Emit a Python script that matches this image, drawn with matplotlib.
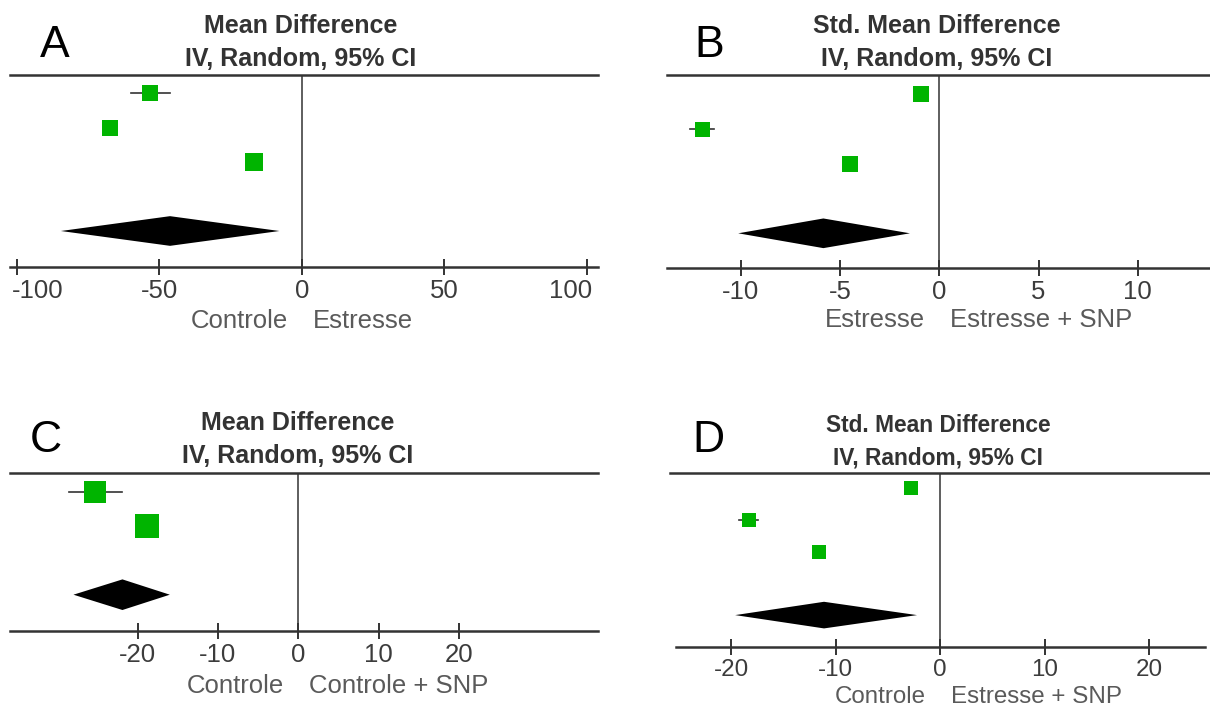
import matplotlib
matplotlib.use('Agg')
import matplotlib.pyplot as plt
from matplotlib.transforms import ScaledTranslation

W, H = 1210, 706
plt.rcParams['font.family'] = ['Liberation Sans', 'DejaVu Sans']

# ---------------- data ----------------
a_est = [-53.2, -67.3, -16.8]
a_lo = [-60.0, -68.5, -18.0]
a_hi = [-46.2, -66.0, -15.6]
a_pooled = [-84.5, -46.2, -7.8]          # lower, estimate, upper
a_ticks = [-100, -50, 0, 50, 100]
a_ticklabels = ['-100', '-50', '0', '50', '100']

b_est = [-0.92, -11.95, -4.52]
b_lo = [-1.2, -12.55, -4.8]
b_hi = [-0.6, -11.35, -4.2]
b_pooled = [-10.13, -5.84, -1.48]
b_ticks = [-10, -5, 0, 5, 10]
b_ticklabels = ['-10', '-5', '0', '5', '10']

c_est = [-25.3, -18.8]
c_lo = [-28.55, -19.8]
c_hi = [-22.0, -17.8]
c_pooled = [-28.0, -21.9, -16.0]
c_ticks = [-20, -10, 0, 10, 20]
c_ticklabels = ['-20', '-10', '0', '10', '20']

d_est = [-2.75, -18.3, -11.6]
d_lo = [-3.2, -19.2, -12.1]
d_hi = [-2.3, -17.4, -11.1]
d_pooled = [-19.6, -11.1, -2.2]
d_ticks = [-20, -10, 0, 10, 20]
d_ticklabels = ['-20', '-10', '0', '10', '20']

subtitle = 'IV, Random, 95% CI'
left_labels = ['Controle', 'Estresse', 'Controle', 'Controle']
right_labels = ['Estresse', 'Estresse + SNP', 'Controle + SNP', 'Estresse + SNP']

# ---------------- layout (pixels) ----------------
panels = [
    dict(est=a_est, lo=a_lo, hi=a_hi, pooled=a_pooled, ticks=a_ticks, tl=a_ticklabels,
         title='Mean Difference', letter='A', ll=left_labels[0], rl=right_labels[0],
         x0=10, x1=598, bx0=10, bx1=598, zero=301.7, scale=2.85,
         top=75, bot=267, row0=93, step=34.5, ms=[11.5, 11.2, 12.6], dh=0.43,
         fs=18.5, tfs=18, t1=33, t2=66, tx=301, lx=40, ly=57, sub_y=328, clamp=True),
    dict(est=b_est, lo=b_lo, hi=b_hi, pooled=b_pooled, ticks=b_ticks, tl=b_ticklabels,
         title='Std. Mean Difference', letter='B', ll=left_labels[1], rl=right_labels[1],
         x0=667, x1=1210, bx0=667, bx1=1210, zero=939.3, scale=19.85,
         top=75, bot=268.3, row0=93.7, step=34.9, ms=[11.5, 10.8, 11.2], dh=0.425,
         fs=18.5, tfs=18, t1=33, t2=66, tx=937, lx=694, ly=57, sub_y=327, clamp=False),
    dict(est=c_est, lo=c_lo, hi=c_hi, pooled=c_pooled, ticks=c_ticks, tl=c_ticklabels,
         title='Mean Difference', letter='C', ll=left_labels[2], rl=right_labels[2],
         x0=10, x1=598, bx0=10, bx1=598, zero=298.3, scale=8.03,
         top=472.7, bot=631, row0=491.5, step=34.4, ms=[15.8, 17.3], dh=0.445,
         fs=18.5, tfs=18, t1=430, t2=463, tx=298, lx=30, ly=452, sub_y=693, clamp=False),
    dict(est=d_est, lo=d_lo, hi=d_hi, pooled=d_pooled, ticks=d_ticks, tl=d_ticklabels,
         title='Std. Mean Difference', letter='D', ll=left_labels[3], rl=right_labels[3],
         x0=670, x1=1210, bx0=676, bx1=1205, zero=940, scale=10.45,
         top=472.7, bot=646.7, row0=488.3, step=31.7, ms=[10.0, 10.0, 10.4], dh=0.42,
         fs=17.4, tfs=16.4, t1=432, t2=465, tx=938, lx=692, ly=452, sub_y=703, clamp=False),
]

GREEN = '#00b400'
DARK = '#333333'

fig = plt.figure(figsize=(W / 100, H / 100), dpi=100)


def fx(x):
    return x / W


def fy(y):
    return 1 - y / H


for p in panels:
    ax = fig.add_axes([fx(p['x0']), fy(p['bot']), (p['x1'] - p['x0']) / W,
                       (p['bot'] - p['top']) / H])
    ax.set_xlim((p['x0'] - p['zero']) / p['scale'], (p['x1'] - p['zero']) / p['scale'])
    ax.set_ylim((p['bot'] - p['row0']) / p['step'], (p['top'] - p['row0']) / p['step'])
    ax.patch.set_alpha(0)
    for s in ['left', 'right']:
        ax.spines[s].set_visible(False)
    for s in ['top', 'bottom']:
        ax.spines[s].set_color(DARK)
        ax.spines[s].set_linewidth(1.8)
    ax.spines['bottom'].set_bounds((p['bx0'] - p['zero']) / p['scale'],
                                   (p['bx1'] - p['zero']) / p['scale'])
    ax.axvline(0, color=DARK, lw=1.1, zorder=1)

    n = len(p['est'])
    for i in range(n):
        ax.plot([p['lo'][i], p['hi'][i]], [i, i], color=DARK, lw=1.2, zorder=2)
        ax.plot(p['est'][i], i, marker='s', ms=p['ms'][i], color=GREEN,
                markeredgewidth=0, zorder=3)
    lo, est, hi = p['pooled']
    yd = n + 1
    ax.fill([lo, est, hi, est], [yd, yd - p['dh'], yd, yd + p['dh']],
            color='black', lw=0, zorder=3)

    ax.set_yticks([])
    ax.set_xticks(p['ticks'])
    ax.set_xticklabels(p['tl'])
    ax.tick_params(axis='x', direction='inout', length=11.5, width=1.4, color=DARK,
                   labelcolor='#3c3c3c', labelsize=p['fs'], pad=3)
    if p['clamp']:
        labs = ax.get_xticklabels()
        labs[0].set_ha('left')
        labs[0].set_transform(labs[0].get_transform() +
                              ScaledTranslation(-5 / 100, 0, fig.dpi_scale_trans))
        labs[-1].set_ha('right')
        labs[-1].set_transform(labs[-1].get_transform() +
                               ScaledTranslation(5 / 100, 0, fig.dpi_scale_trans))

    fig.text(fx(p['lx']), fy(p['ly']), p['letter'], fontsize=32, color='black',
             ha='left', va='baseline')
    fig.text(fx(p['tx']), fy(p['t1']), p['title'], fontsize=p['tfs'], fontweight='bold',
             color=DARK, ha='center', va='baseline')
    fig.text(fx(p['tx']), fy(p['t2']), subtitle, fontsize=p['tfs'], fontweight='bold',
             color=DARK, ha='center', va='baseline')
    fig.text(fx(p['zero'] - 14), fy(p['sub_y']), p['ll'], fontsize=p['fs'],
             color='#5a5a5a', ha='right', va='baseline')
    fig.text(fx(p['zero'] + 11), fy(p['sub_y']), p['rl'], fontsize=p['fs'],
             color='#5a5a5a', ha='left', va='baseline')

fig.savefig('out.png', dpi=100)
